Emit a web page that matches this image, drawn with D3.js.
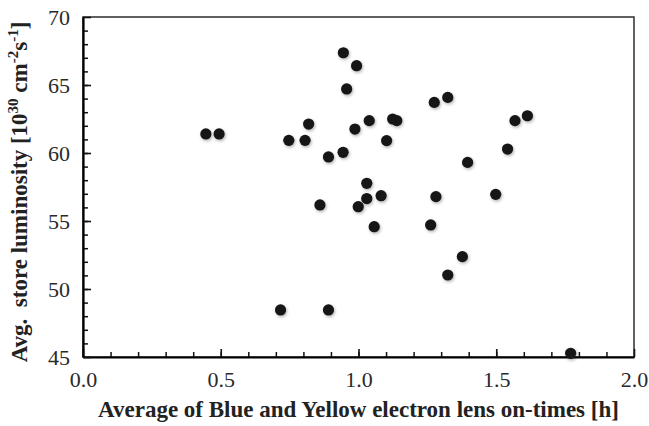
<!DOCTYPE html>
<html>
<head>
<meta charset="utf-8">
<script src="https://cdn.jsdelivr.net/npm/d3@7"></script>
<style>
  body { margin: 0; background: #fff; }
  svg { display: block; }
</style>
</head>
<body>
<div id="chart"></div>
<script>
// lens on-time [h]
var onTimes = [0.446, 0.494, 0.717, 0.747, 0.806, 0.819, 0.860, 0.891, 0.891, 0.944,
               0.945, 0.957, 0.987, 0.993, 0.999, 1.030, 1.030, 1.039, 1.057, 1.082,
               1.102, 1.124, 1.139, 1.262, 1.275, 1.281, 1.324, 1.324, 1.377, 1.396,
               1.498, 1.541, 1.568, 1.613, 1.770];
// avg store luminosity [1e30 cm^-2 s^-1]
var luminosity = [61.40, 61.40, 48.46, 60.93, 60.93, 62.13, 56.18, 59.71, 48.46, 60.05,
                  67.37, 64.71, 61.76, 66.42, 56.05, 57.77, 56.65, 62.38, 54.58, 56.86,
                  60.91, 62.50, 62.38, 54.71, 63.72, 56.79, 64.09, 51.03, 52.38, 59.31,
                  56.96, 60.29, 62.38, 62.74, 45.27];
var xTicks = [0, 0.5, 1.0, 1.5, 2.0];
var yTicks = [45, 50, 55, 60, 65, 70];

function init(){
    var w = 649, h = 426;
    var margin = {top: 17, right: 15, bottom: 69, left: 83};
    var iw = w - margin.left - margin.right;
    var ih = h - margin.top - margin.bottom;
    var serif = "'Liberation Serif', 'Times New Roman', Times, serif";

    var xScale = d3.scaleLinear().domain([0, 2]).range([0, iw]);
    var yScale = d3.scaleLinear().domain([45, 70]).range([ih, 0]);

    var svg = d3.select("#chart").append("svg")
        .attr("width", w)
        .attr("height", h);

    var defs = svg.append("defs");
    var f = defs.append("filter").attr("id", "soft")
        .attr("x", "-50%").attr("y", "-50%").attr("width", "200%").attr("height", "200%");
    f.append("feDropShadow")
        .attr("dx", 1).attr("dy", 1.5)
        .attr("stdDeviation", 1.6)
        .attr("flood-color", "#000")
        .attr("flood-opacity", 0.3);

    var g = svg.append("g").attr("transform", "translate(" + margin.left + "," + margin.top + ")");

    // frame (top / right)
    g.append("rect")
        .attr("x", 0).attr("y", 0)
        .attr("width", iw).attr("height", ih)
        .attr("fill", "none")
        .attr("stroke", "#3a3a3a")
        .attr("stroke-width", 1.6);

    // minor ticks
    g.append("g")
        .attr("transform", "translate(0," + ih + ")")
        .call(d3.axisBottom(xScale).tickValues(d3.range(1, 20).map(function(d){ return d / 10; }))
            .tickSize(-5).tickFormat(""))
        .call(function(a){ a.select(".domain").remove(); })
        .selectAll("line").attr("stroke", "#111").attr("stroke-width", 1.5);
    g.append("g")
        .call(d3.axisLeft(yScale).tickValues(d3.range(46, 70))
            .tickSize(-5).tickFormat(""))
        .call(function(a){ a.select(".domain").remove(); })
        .selectAll("line").attr("stroke", "#111").attr("stroke-width", 1.5);

    // major axes
    var xAxis = g.append("g")
        .attr("transform", "translate(0," + ih + ")")
        .call(d3.axisBottom(xScale).tickValues(xTicks)
            .tickSize(-8).tickSizeOuter(0).tickPadding(14)
            .tickFormat(d3.format(".1f")));
    var yAxis = g.append("g")
        .call(d3.axisLeft(yScale).tickValues(yTicks)
            .tickSize(-8).tickSizeOuter(0).tickPadding(13)
            .tickFormat(d3.format("d")));

    [xAxis, yAxis].forEach(function(a){
        a.attr("font-family", serif).attr("font-size", 22);
        a.select(".domain").attr("stroke", "#000").attr("stroke-width", 2.2);
        a.selectAll(".tick line").attr("stroke", "#111").attr("stroke-width", 1.6);
        a.selectAll(".tick text")
            .attr("fill", "#2a2a2a")
            .style("font-family", serif)
            .style("font-weight", "normal");
    });

    // points
    var pts = onTimes.map(function(d, i){ return {x: d, y: luminosity[i]}; });
    g.append("g").attr("filter", "url(#soft)")
        .selectAll("circle")
        .data(pts)
        .enter()
        .append("circle")
        .attr("cx", function(d){ return xScale(d.x); })
        .attr("cy", function(d){ return yScale(d.y); })
        .attr("r", 5.6)
        .attr("fill", "#141414");

    // axis titles
    svg.append("text")
        .attr("x", margin.left + iw / 2)
        .attr("y", 417)
        .attr("text-anchor", "middle")
        .style("font-family", serif)
        .attr("font-weight", "bold")
        .attr("font-size", 23)
        .attr("fill", "#222")
        .text("Average of Blue and Yellow electron lens on-times [h]");

    var yt = svg.append("text")
        .attr("transform", "translate(27,192) rotate(-90)")
        .attr("text-anchor", "middle")
        .style("font-family", serif)
        .attr("font-weight", "bold")
        .attr("font-size", 23)
        .style("white-space", "pre")
        .attr("fill", "#222");
    yt.append("tspan").text("Avg.  store luminosity [10");
    yt.append("tspan").attr("dy", -9).attr("font-size", 15).text("30");
    yt.append("tspan").attr("dy", 9).text(" cm");
    yt.append("tspan").attr("dy", -9).attr("font-size", 15).text("-2");
    yt.append("tspan").attr("dy", 9).text("s");
    yt.append("tspan").attr("dy", -9).attr("font-size", 15).text("-1");
    yt.append("tspan").attr("dy", 9).text("]");
}
window.onload = init;
</script>
</body>
</html>
